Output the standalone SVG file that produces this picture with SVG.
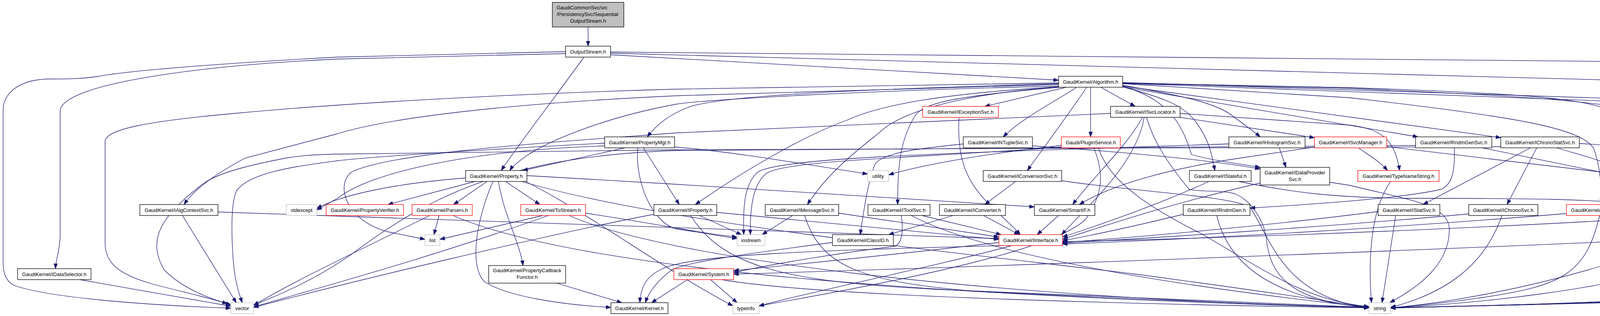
<svg xmlns="http://www.w3.org/2000/svg" width="5184" height="808" viewBox="0 0 5184 808">
<style>
.n rect{fill:#fff;stroke:#000;stroke-width:1.3}
.n.r rect{stroke:#f00}
.n.g rect{stroke:#bfbfbf}
.n.root rect{fill:#bfbfbf}
text{font-family:"Liberation Sans",Arial,sans-serif;font-size:13px;text-anchor:middle;fill:#000}
text.l{text-anchor:start}
#edges path{fill:none;stroke:#191970;stroke-width:1.3;marker-end:url(#a)}
</style>
<defs>
<marker id="a" markerWidth="14" markerHeight="10" refX="13" refY="4.7" orient="auto" markerUnits="userSpaceOnUse">
<path d="M0,0 L13,4.7 L0,9.4 Z" fill="#191970" stroke="#191970" stroke-width="1"/>
</marker>
</defs>
<rect width="5184" height="808" fill="#fff"/>
<g id="edges">
<path d="M1505.5,69 L1505.5,118"/>
<path d="M1563,140 L2710,205"/>
<path d="M1563,133 L4320,159 C4700,166 4950,180 5110,198"/>
<path d="M1563,136 L4320,210 C4850,232 5060,258 5072,292 L5072,617 C5072,690 5030,718 4995,726 C4800,755 4200,772 3560,787"/>
<path d="M1448,132 L864,146 C600,160 330,180 253,195 C210,202 170,202 120,202 C45,205 8,240 8,283 L8,671 C8,705 20,724 40,731 C140,765 420,782 591,788"/>
<path d="M1448,137 L864,151 C500,168 160,215 154,283 L154,600 C154,640 143,660 142,687"/>
<path d="M1495,146 C1420,250 1320,380 1283,436"/>
<path d="M204,715 L591,783"/>
<path d="M2818,223 L2906,272"/>
<path d="M2792,223 L2792,350"/>
<path d="M2730,223 L2521,272"/>
<path d="M2755,224 C2700,260 2620,300 2568,350"/>
<path d="M2710,214 C2300,226 1850,240 1760,275 C1710,295 1680,320 1657,350"/>
<path d="M2874,218 C3030,245 3120,265 3160,300 C3190,322 3212,338 3226,350"/>
<path d="M2874,222 L3630,350"/>
<path d="M2874,220 L3842,352"/>
<path d="M2874,213 L4320,266 C4500,280 4620,318 4689,350"/>
<path d="M2710,212 L1728,228 C1300,240 864,265 600,290 C380,310 269,330 269,362 L269,621 C269,670 300,700 386,725 C460,745 540,762 582,777"/>
<path d="M2874,211 L4320,258 C4800,283 5010,320 5020,360 L5020,640 C5020,690 4990,718 4950,728 C4700,760 4000,776 3560,788"/>
<path d="M2710,216 L1728,245 C1300,265 1000,300 864,342 C760,370 680,390 628,404 C560,440 500,480 471,523"/>
<path d="M2710,220 C2200,232 1800,255 1728,267 C1550,300 1400,360 1340,404 C1325,415 1312,425 1305,436"/>
<path d="M2710,222 C2400,240 2250,270 2169,307 C2050,350 1900,440 1780,523"/>
<path d="M2712,223 C2450,240 2300,290 2250,340 C2200,380 2120,440 2067,523"/>
<path d="M2714,223 C2450,245 2360,262 2340,300 C2305,360 2298,420 2298,523"/>
<path d="M2782,223 C2730,300 2670,380 2630,436"/>
<path d="M2874,222 C2980,250 3030,270 3060,310 C3090,350 3100,380 3110,436"/>
<path d="M2874,221 C3000,255 3030,330 3050,395 C3100,410 3180,420 3226,428"/>
<path d="M2874,214 L3456,250 C3900,300 4050,330 4080,380 C4095,420 4100,470 4100,523"/>
<path d="M2874,212 L3456,224 C3900,240 4100,250 4150,300 C4180,350 4185,400 4189,436"/>
<path d="M2874,213 L3456,226 C3900,245 4150,260 4250,300 C4330,340 4390,390 4425,436"/>
<path d="M2925,300 C2880,380 2800,450 2746,523"/>
<path d="M2929,300 C2910,420 2780,530 2718,600"/>
<path d="M2935,300 C2950,350 2975,400 3044,484 C3080,492 3120,485 3160,495 C3200,510 3235,560 3242,610 C3250,700 3300,772 3505,786"/>
<path d="M3021,300 L3365,352"/>
<path d="M3021,290 L3456,320 C3530,330 3570,350 3583,436"/>
<path d="M2843,290 L1728,340 C1400,365 1000,390 900,440 C860,470 880,560 990,592 L1088,612"/>
<path d="M3478,378 C3500,395 3530,410 3552,436"/>
<path d="M3365,376 L3176,404 C3000,430 2850,470 2763,523"/>
<path d="M3550,375 L4117,442"/>
<path d="M3404,466 L3456,474 C3600,510 3700,520 3710,580 C3715,680 3620,740 3558,774"/>
<path d="M2643,373 C2900,390 3100,410 3226,432"/>
<path d="M2466,368 C2350,380 2260,390 2240,420 C2220,470 2210,550 2202,600"/>
<path d="M3275,378 L3292,428"/>
<path d="M3146,368 C2500,390 2000,400 1940,440 C1905,470 1902,530 1904,600"/>
<path d="M2717,372 C2500,395 2350,425 2275,447"/>
<path d="M2717,376 C2400,402 2000,408 1960,445 C1925,475 1920,540 1921,600"/>
<path d="M2812,378 C2840,470 2960,540 3080,600 C3250,700 3350,770 3505,784"/>
<path d="M2800,378 C2830,450 2820,500 2780,560 C2700,640 2300,720 1943,782"/>
<path d="M1600,378 L1338,436"/>
<path d="M1647,378 L1739,523"/>
<path d="M1548,366 C1200,385 950,400 864,411 C760,425 640,440 606,487 C590,520 593,600 596,650 C600,720 612,750 620,774"/>
<path d="M1548,373 C1200,385 950,440 864,507 L811,537"/>
<path d="M1727,376 C1850,385 2000,410 2221,445"/>
<path d="M1633,378 C1625,450 1660,560 1728,585 C1800,595 1850,605 1887,610"/>
<path d="M1216,464 L993,523"/>
<path d="M1247,464 L1161,523"/>
<path d="M1294,464 L1382,523"/>
<path d="M1276,464 C1290,550 1330,620 1339,679"/>
<path d="M1262,464 C1220,560 1200,680 1240,720 C1300,760 1450,780 1564,786"/>
<path d="M1192,455 C1000,470 870,500 811,533"/>
<path d="M1349,449 L1728,471 L2648,529"/>
<path d="M1345,464 C1500,540 1700,690 1876,782"/>
<path d="M1335,464 C1700,570 2400,640 2900,700 C3200,740 3400,770 3505,786"/>
<path d="M1100,551 C900,650 750,720 649,781"/>
<path d="M1124,551 L1111,600"/>
<path d="M1160,551 C1500,700 2500,760 3505,787"/>
<path d="M1390,551 L1126,612"/>
<path d="M1404,551 C1100,660 800,740 649,785"/>
<path d="M1457,551 C1700,660 2500,760 3505,787"/>
<path d="M1499,545 C1700,575 1800,598 1887,606"/>
<path d="M1425,724 L1592,774"/>
<path d="M1835,543 L2557,612"/>
<path d="M1790,551 L1898,600"/>
<path d="M1768,551 C1850,680 2000,720 2400,740 C2900,760 3300,775 3505,786"/>
<path d="M1674,548 C1400,600 900,720 649,786"/>
<path d="M2029,551 L1951,600"/>
<path d="M2060,551 C2100,680 2200,720 2500,745 C3000,770 3300,780 3505,787"/>
<path d="M2147,545 L2557,606"/>
<path d="M2307,551 C2315,600 2305,625 2290,630 C2200,640 2000,670 1878,697"/>
<path d="M2333,551 C2500,640 2900,720 3505,786"/>
<path d="M2360,551 L2563,600"/>
<path d="M2440,551 L2275,600"/>
<path d="M2518,551 L2609,600"/>
<path d="M2600,464 L2521,523"/>
<path d="M2718,462 C2900,490 3150,500 3200,530 C3250,600 3280,760 3505,787"/>
<path d="M2710,551 L2655,600"/>
<path d="M3171,464 C3300,490 3400,505 3600,507 C3900,507 4100,508 4213,526"/>
<path d="M3095,464 C2950,530 2800,580 2720,606"/>
<path d="M3226,468 C3000,520 2850,570 2720,612"/>
<path d="M3029,548 C2900,580 2800,600 2720,616"/>
<path d="M3115,551 C3150,700 3300,770 3505,786"/>
<path d="M3723,378 C3725,430 3720,470 3690,484 C3600,505 3400,520 3200,532"/>
<path d="M3795,378 L4117,444"/>
<path d="M3624,372 L1728,385 C1300,400 1100,500 900,650 C800,720 700,760 649,780"/>
<path d="M3918,378 L3643,523"/>
<path d="M3934,378 L3858,523"/>
<path d="M3985,378 C4040,395 4110,410 4145,436"/>
<path d="M4043,367 C4300,380 4420,420 4420,480 C4420,560 4370,640 4300,680 C4100,740 3800,775 3560,787"/>
<path d="M3842,375 L1728,383 C1300,388 1000,392 864,394 C780,396 760,400 733,404 C650,420 560,440 520,470 C400,560 380,620 420,690 C470,740 540,765 591,779"/>
<path d="M4656,378 L4273,440"/>
<path d="M4781,378 L4832,436"/>
<path d="M4745,378 C4745,520 4720,570 4560,595 C4200,620 2600,680 1878,701"/>
<path d="M4816,378 C4930,410 4970,440 4970,500 L4970,680 C4970,710 4950,725 4900,735 C4600,765 4000,778 3560,787"/>
<path d="M4427,464 L4337,523"/>
<path d="M4471,464 L4551,523"/>
<path d="M4534,461 C4650,500 4700,540 4720,580 C4760,650 4750,710 4700,740 C4400,770 3900,780 3560,787"/>
<path d="M4810,464 L4629,523"/>
<path d="M4868,464 C4900,560 4920,650 4910,700 C4900,730 4850,738 4800,742 C4500,765 3900,780 3560,787"/>
<path d="M4232,464 L4285,523"/>
<path d="M4273,462 L4513,523"/>
<path d="M4475,541 C4000,575 3300,605 2720,618"/>
<path d="M4545,551 C4520,680 4460,740 4400,755 C4100,775 3800,782 3560,787"/>
<path d="M3528,541 C3300,570 3000,600 2720,620"/>
<path d="M3573,551 L3538,774"/>
<path d="M3760,547 C3400,580 3000,605 2720,622"/>
<path d="M3845,551 C3800,680 3700,750 3560,786"/>
<path d="M4010,546 C3600,580 3100,610 2720,624"/>
<path d="M4095,551 C4060,700 4000,730 3800,760 C3700,775 3600,784 3560,787"/>
<path d="M3560,464 C3500,550 3505,700 3511,774"/>
<path d="M4300,551 C4290,620 4200,650 4100,680 C3900,740 3700,775 3560,787"/>
<path d="M2557,620 C2300,650 2000,680 1878,692"/>
<path d="M2590,628 C2400,680 2100,740 1943,782"/>
<path d="M2570,628 C2100,640 1760,650 1690,690 C1650,710 1640,740 1638,774"/>
<path d="M1760,715 L1668,774"/>
<path d="M2131,620 C1900,650 1760,670 1720,690 C1680,720 1660,750 1652,774"/>
<path d="M1819,715 L1887,774"/>
<path d="M1848,715 C2100,760 3000,780 3505,787"/>
<path d="M467,551 L605,774"/>
<path d="M558,542 C1200,565 2000,590 2557,610"/>
<path d="M2455,300 C2450,400 2470,460 2530,520 C2560,550 2590,575 2612,600"/>
</g>
<g id="n_root" class="n root"><rect x="1414" y="6" width="183" height="63"/><text class="l" x="1425" y="24">GaudiCommonSvc/src</text><text class="l" x="1425" y="41">/PersistencySvc/Sequential</text><text x="1505.5" y="58">OutputStream.h</text></g>
<g id="n_os" class="n"><rect x="1448" y="118" width="115" height="28"/><text x="1505.5" y="136.5">OutputStream.h</text></g>
<g id="n_alg" class="n"><rect x="2710" y="195" width="164" height="28"/><text x="2792" y="213.5">GaudiKernel/Algorithm.h</text></g>
<g id="n_memory" class="n g"><rect x="5110" y="195" width="70" height="28"/><text x="5145" y="213.5">memory</text></g>
<g id="n_iexc" class="n r"><rect x="2362" y="272" width="194" height="28"/><text x="2459" y="290.5">GaudiKernel/IExceptionSvc.h</text></g>
<g id="n_isvcloc" class="n"><rect x="2843" y="272" width="178" height="28"/><text x="2932" y="290.5">GaudiKernel/ISvcLocator.h</text></g>
<g id="n_pmgr" class="n"><rect x="1548" y="350" width="179" height="28"/><text x="1637.5" y="368.5">GaudiKernel/PropertyMgr.h</text></g>
<g id="n_intup" class="n"><rect x="2466" y="350" width="177" height="28"/><text x="2554.5" y="368.5">GaudiKernel/INTupleSvc.h</text></g>
<g id="n_plugin" class="n r"><rect x="2717" y="350" width="151" height="28"/><text x="2792.5" y="368.5">Gaudi/PluginService.h</text></g>
<g id="n_ihist" class="n"><rect x="3146" y="350" width="195" height="28"/><text x="3243.5" y="368.5">GaudiKernel/IHistogramSvc.h</text></g>
<g id="n_isvcmgr" class="n r"><rect x="3365" y="350" width="185" height="28"/><text x="3457.5" y="368.5">GaudiKernel/ISvcManager.h</text></g>
<g id="n_irgs" class="n"><rect x="3624" y="350" width="195" height="28"/><text x="3721.5" y="368.5">GaudiKernel/IRndmGenSvc.h</text></g>
<g id="n_icss" class="n"><rect x="3842" y="350" width="201" height="28"/><text x="3942.5" y="368.5">GaudiKernel/IChronoStatSvc.h</text></g>
<g id="n_iaudsvc" class="n"><rect x="4656" y="350" width="176" height="28"/><text x="4744" y="368.5">GaudiKernel/IAuditorSvc.h</text></g>
<g id="n_prop" class="n"><rect x="1192" y="436" width="157" height="28"/><text x="1270.5" y="454.5">GaudiKernel/Property.h</text></g>
<g id="n_utility" class="n g"><rect x="2221" y="436" width="54" height="28"/><text x="2248" y="454.5">utility</text></g>
<g id="n_iconvsvc" class="n"><rect x="2517" y="436" width="201" height="28"/><text x="2617.5" y="454.5">GaudiKernel/IConversionSvc.h</text></g>
<g id="n_istateful" class="n"><rect x="3045" y="436" width="158" height="28"/><text x="3124" y="454.5">GaudiKernel/IStateful.h</text></g>
<g id="n_idps" class="n"><rect x="3226" y="428" width="178" height="45"/><text x="3315" y="445.5">GaudiKernel/IDataProvider</text><text x="3315" y="462.5">Svc.h</text></g>
<g id="n_tns" class="n r"><rect x="3476" y="436" width="208" height="28"/><text x="3580" y="454.5">GaudiKernel/TypeNameString.h</text></g>
<g id="n_iservice" class="n"><rect x="4117" y="436" width="156" height="28"/><text x="4195" y="454.5">GaudiKernel/IService.h</text></g>
<g id="n_ialg" class="n"><rect x="4367" y="436" width="167" height="28"/><text x="4450.5" y="454.5">GaudiKernel/IAlgorithm.h</text></g>
<g id="n_iaud" class="n"><rect x="4781" y="436" width="153" height="28"/><text x="4857.5" y="454.5">GaudiKernel/IAuditor.h</text></g>
<g id="n_iacs" class="n"><rect x="358" y="523" width="200" height="28"/><text x="458" y="541.5">GaudiKernel/IAlgContextSvc.h</text></g>
<g id="n_stdexcept" class="n g"><rect x="733" y="523" width="78" height="28"/><text x="772" y="541.5">stdexcept</text></g>
<g id="n_pver" class="n r"><rect x="835" y="523" width="198" height="28"/><text x="934" y="541.5">GaudiKernel/PropertyVerifier.h</text></g>
<g id="n_parsers" class="n r"><rect x="1055" y="523" width="154" height="28"/><text x="1132" y="541.5">GaudiKernel/Parsers.h</text></g>
<g id="n_tostream" class="n r"><rect x="1333" y="523" width="166" height="28"/><text x="1416" y="541.5">GaudiKernel/ToStream.h</text></g>
<g id="n_iprop" class="n"><rect x="1674" y="523" width="161" height="28"/><text x="1754.5" y="541.5">GaudiKernel/IProperty.h</text></g>
<g id="n_imsg" class="n"><rect x="1959" y="523" width="188" height="28"/><text x="2053" y="541.5">GaudiKernel/IMessageSvc.h</text></g>
<g id="n_itool" class="n"><rect x="2222" y="523" width="159" height="28"/><text x="2301.5" y="541.5">GaudiKernel/IToolSvc.h</text></g>
<g id="n_iconv" class="n"><rect x="2405" y="523" width="169" height="28"/><text x="2489.5" y="541.5">GaudiKernel/IConverter.h</text></g>
<g id="n_smartif" class="n"><rect x="2648" y="523" width="155" height="28"/><text x="2725.5" y="541.5">GaudiKernel/SmartIF.h</text></g>
<g id="n_irndmgen" class="n"><rect x="3029" y="523" width="171" height="28"/><text x="3114.5" y="541.5">GaudiKernel/IRndmGen.h</text></g>
<g id="n_istat" class="n"><rect x="3528" y="523" width="158" height="28"/><text x="3607" y="541.5">GaudiKernel/IStatSvc.h</text></g>
<g id="n_ichrono" class="n"><rect x="3760" y="523" width="177" height="28"/><text x="3848.5" y="541.5">GaudiKernel/IChronoSvc.h</text></g>
<g id="n_imon" class="n r"><rect x="4010" y="523" width="179" height="28"/><text x="4099.5" y="541.5">GaudiKernel/IMonitorSvc.h</text></g>
<g id="n_sm" class="n r"><rect x="4213" y="523" width="188" height="28"/><text x="4307" y="541.5">GaudiKernel/StateMachine.h</text></g>
<g id="n_ini" class="n"><rect x="4475" y="523" width="205" height="28"/><text x="4577.5" y="541.5">GaudiKernel/INamedInterface.h</text></g>
<g id="n_list" class="n g"><rect x="1088" y="600" width="38" height="28"/><text x="1107" y="618.5">list</text></g>
<g id="n_iostream" class="n g"><rect x="1887" y="600" width="71" height="28"/><text x="1922.5" y="618.5">iostream</text></g>
<g id="n_classid" class="n"><rect x="2131" y="600" width="156" height="28"/><text x="2209" y="618.5">GaudiKernel/ClassID.h</text></g>
<g id="n_iinterface" class="n r"><rect x="2557" y="600" width="163" height="28"/><text x="2638.5" y="618.5">GaudiKernel/IInterface.h</text></g>
<g id="n_ids" class="n"><rect x="45" y="687" width="188" height="28"/><text x="139" y="705.5">GaudiKernel/IDataSelector.h</text></g>
<g id="n_pcf" class="n"><rect x="1251" y="679" width="197" height="45"/><text x="1349.5" y="696">GaudiKernel/PropertyCallback</text><text x="1349.5" y="713">Functor.h</text></g>
<g id="n_system" class="n r"><rect x="1725" y="687" width="153" height="28"/><text x="1801.5" y="705.5">GaudiKernel/System.h</text></g>
<g id="n_vector" class="n g"><rect x="591" y="774" width="58" height="28"/><text x="620" y="792.5">vector</text></g>
<g id="n_kernel" class="n"><rect x="1564" y="774" width="146" height="28"/><text x="1637" y="792.5">GaudiKernel/Kernel.h</text></g>
<g id="n_typeinfo" class="n g"><rect x="1876" y="774" width="67" height="28"/><text x="1909.5" y="792.5">typeinfo</text></g>
<g id="n_string" class="n g"><rect x="3505" y="774" width="55" height="28"/><text x="3532.5" y="792.5">string</text></g>
</svg>
